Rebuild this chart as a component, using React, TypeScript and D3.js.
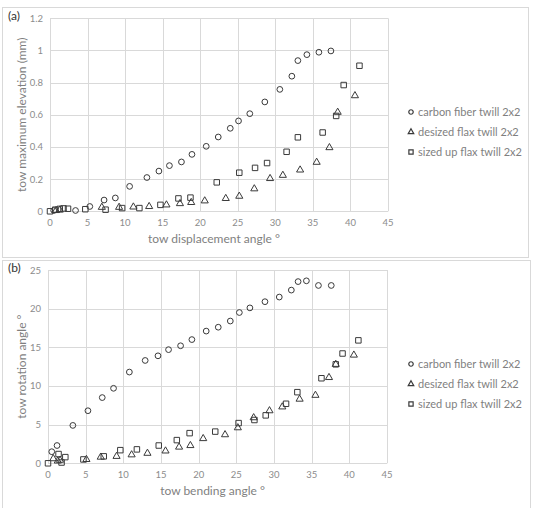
import { useEffect, useRef } from 'react'
import * as d3 from 'd3'

// panel (a): tow displacement angle vs max elevation
const carbonA = [[0.5,0.005],[3.4,0.005],[5.3,0.03],[7.2,0.07],[8.7,0.083],[10.6,0.155],[12.9,0.21],[14.5,0.25],[15.9,0.284],[17.5,0.307],[18.9,0.354],[20.8,0.404],[22.4,0.462],[24.0,0.516],[25.1,0.562],[26.6,0.607],[28.6,0.68],[30.6,0.758],[32.2,0.84],[33.0,0.937],[34.2,0.974],[35.8,0.989],[37.4,0.997]]
const desizedA = [[0.8,0.005],[1.3,0.008],[6.9,0.025],[9.2,0.025],[11.1,0.027],[13.2,0.03],[15.5,0.04],[17.3,0.048],[18.8,0.055],[20.6,0.065],[23.4,0.08],[25.2,0.094],[27.2,0.14],[29.3,0.204],[31.0,0.224],[33.3,0.257],[35.5,0.305],[37.2,0.396],[38.3,0.616],[40.6,0.719]]
const sizedA = [[0,0],[0.7,0.01],[1.3,0.015],[1.8,0.018],[2.4,0.016],[4.7,0.013],[7.4,0.01],[9.6,0.02],[11.9,0.02],[14.7,0.04],[17.1,0.08],[18.7,0.085],[22.2,0.18],[25.2,0.24],[27.3,0.27],[28.9,0.3],[31.5,0.37],[33.0,0.46],[36.3,0.49],[38.1,0.593],[39.1,0.785],[41.2,0.905]]

// panel (b): tow bending angle vs rotation angle
const carbonB = [[0.5,1.5],[1.2,2.3],[3.3,4.9],[5.3,6.8],[7.2,8.5],[8.7,9.7],[10.8,11.8],[12.9,13.3],[14.6,13.9],[16.0,14.7],[17.6,15.2],[19.1,16.0],[21.0,17.1],[22.6,17.6],[24.2,18.4],[25.4,19.5],[26.8,20.1],[28.8,20.9],[30.7,21.5],[32.3,22.4],[33.2,23.5],[34.3,23.6],[35.9,23.0],[37.6,23.0]]
const desizedB = [[0.7,0.6],[1.3,0.3],[1.6,0.4],[5.1,0.5],[7.0,0.8],[9.1,0.9],[11.1,1.1],[13.2,1.3],[15.6,1.6],[17.4,2.1],[18.9,2.3],[20.6,3.2],[23.5,3.7],[25.2,4.6],[27.3,5.9],[29.4,6.8],[31.1,7.3],[33.4,8.3],[35.5,8.8],[37.3,11.1],[38.2,12.8],[40.6,14.0]]
const sizedB = [[0,0],[1.4,1.2],[1.8,0.1],[2.3,0.8],[4.7,0.5],[7.4,0.9],[9.6,1.7],[11.8,1.8],[14.7,2.3],[17.1,3.0],[18.8,3.9],[22.2,4.1],[25.3,5.2],[27.4,5.6],[28.9,6.2],[31.6,7.7],[33.1,9.2],[36.3,11.0],[38.2,12.8],[39.1,14.2],[41.2,15.9]]

const seriesNames = ['carbon fiber twill 2x2', 'desized flax twill 2x2', 'sized up flax twill 2x2']
const xTicks = [0, 5, 10, 15, 20, 25, 30, 35, 40, 45]
const yTicksA = [0, 0.2, 0.4, 0.6, 0.8, 1, 1.2]
const yTicksB = [0, 5, 10, 15, 20, 25]

const font = 'Lato, "Open Sans", sans-serif'
const grid = '#d9d9d9'
const textGray = '#7f7f7f'
const ink = '#3a3a3a'

const shapes = [d3.symbolCircle, d3.symbolTriangle, d3.symbolSquare]
const sizes = [26, 22, 30]

const panels = [
  { tag: '(a)', frame: [2, 7, 526, 250], plot: [50, 388, 18.3, 211.3], yMax: 1.2, yTicks: yTicksA,
    xTitle: 'tow displacement angle °', yTitle: 'tow maximum elevation (mm)', legendY: 112,
    data: [carbonA, desizedA, sizedA] },
  { tag: '(b)', frame: [2, 260, 528, 260], plot: [48, 387, 270, 463.3], yMax: 25, yTicks: yTicksB,
    xTitle: 'tow bending angle °', yTitle: 'tow rotation angle °', legendY: 364,
    data: [carbonB, desizedB, sizedB] }
]

const App = () => {
  const ref = useRef<SVGSVGElement>(null)

  useEffect(() => {
    const svg = d3.select(ref.current)
    svg.selectAll('*').remove()

    panels.forEach((p) => {
      const [fx, fy, fw, fh] = p.frame
      const [x0, x1, yTop, yBot] = p.plot
      const g = svg.append('g')

      g.append('rect').attr('x', fx + 0.5).attr('y', fy + 0.5).attr('width', fw).attr('height', fh)
        .attr('fill', '#fff').attr('stroke', grid)

      const x = d3.scaleLinear().domain([0, 45]).range([x0, x1])
      const y = d3.scaleLinear().domain([0, p.yMax]).range([yBot, yTop])

      g.selectAll('.vg').data(xTicks).enter().append('line')
        .attr('x1', (d) => Math.round(x(d)) + 0.5).attr('x2', (d) => Math.round(x(d)) + 0.5)
        .attr('y1', yTop).attr('y2', yBot).attr('stroke', grid)
      g.selectAll('.hg').data(p.yTicks).enter().append('line')
        .attr('x1', x0).attr('x2', x1)
        .attr('y1', (d) => Math.round(y(d)) + 0.5).attr('y2', (d) => Math.round(y(d)) + 0.5)
        .attr('stroke', grid)

      g.selectAll('.xl').data(xTicks).enter().append('text')
        .attr('x', (d) => x(d)).attr('y', yBot + 15)
        .attr('text-anchor', 'middle').attr('font-size', 9.5).attr('fill', '#8c8c8c')
        .attr('font-family', font).text((d) => d)
      g.selectAll('.yl').data(p.yTicks).enter().append('text')
        .attr('x', x0 - 7).attr('y', (d) => y(d) + 3.5)
        .attr('text-anchor', 'end').attr('font-size', 9.5).attr('fill', '#8c8c8c')
        .attr('font-family', font).text((d) => d)

      g.append('text').attr('x', (x0 + x1) / 2 - 5).attr('y', yBot + 32)
        .attr('text-anchor', 'middle').attr('font-size', 12).attr('fill', textGray)
        .attr('font-family', font).text(p.xTitle)
      g.append('text')
        .attr('transform', `translate(${fx + 24},${(yTop + yBot) / 2}) rotate(-90)`)
        .attr('text-anchor', 'middle').attr('font-size', 12).attr('fill', textGray)
        .attr('font-family', font).text(p.yTitle)
      g.append('text').attr('x', fx + 6).attr('y', yTop + 2)
        .attr('font-size', 12).attr('fill', '#333').attr('font-family', font).text(p.tag)

      p.data.forEach((pts, i) => {
        const sym = d3.symbol().type(shapes[i]).size(sizes[i])
        g.selectAll(`.s${i}`).data(pts).enter().append('path')
          .attr('d', sym)
          .attr('transform', (d) => `translate(${x(d[0])},${y(d[1])})`)
          .attr('fill', 'none').attr('stroke', ink).attr('stroke-width', 1)

        const ly = p.legendY + i * 20
        g.append('path').attr('d', d3.symbol().type(shapes[i]).size(sizes[i] * 0.6))
          .attr('transform', `translate(411,${ly})`)
          .attr('fill', 'none').attr('stroke', ink).attr('stroke-width', 1.2)
        g.append('text').attr('x', 418).attr('y', ly + 4)
          .attr('font-size', 11).attr('fill', textGray).attr('font-family', font)
          .text(seriesNames[i])
      })
    })
  }, [])

  return (
    <svg ref={ref} width={534} height={508}
      style={{ position: 'absolute', left: 0, top: 0, background: '#fff' }} />
  )
}

export default App
